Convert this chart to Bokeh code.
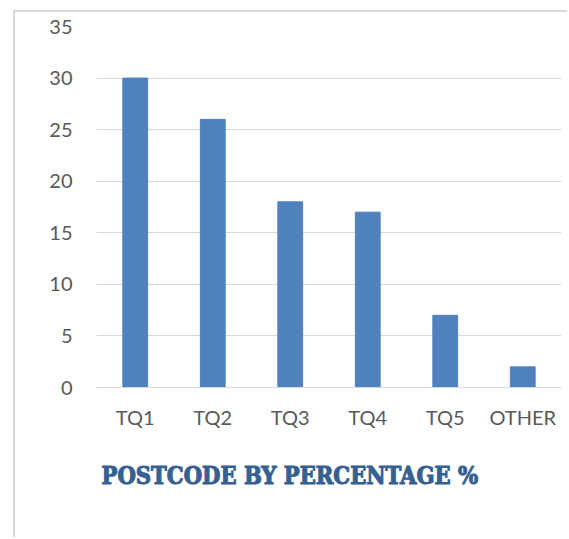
from bokeh.plotting import figure
from bokeh.models import Title, FixedTicker
from bokeh.embed import file_html
from bokeh.resources import INLINE

# Share of customers by postcode area
postcodes = ["TQ1", "TQ2", "TQ3", "TQ4", "TQ5", "OTHER"]
percentages = [30, 26, 18, 17, 7, 2]
y_ticks = [0, 5, 10, 15, 20, 25, 30, 35]
chart_title = "POSTCODE BY PERCENTAGE %"

FRAME_LEFT = 13
FRAME_TOP = 10

p = figure(
    x_range=postcodes,
    y_range=(0, 35),
    width=569 - FRAME_LEFT - 2,
    height=539 - FRAME_TOP - 2,
    output_backend="svg",
    toolbar_location=None,
    min_border_left=96 - FRAME_LEFT - 2,
    min_border_right=8,
    min_border_top=26 - FRAME_TOP - 2,
    min_border_bottom=152,
    styles={
        "margin-left": f"{FRAME_LEFT}px",
        "margin-top": f"{FRAME_TOP}px",
        "border-left": "2px solid #d9d9d9",
        "border-top": "2px solid #d9d9d9",
    },
)
p.outline_line_color = None
p.background_fill_color = "white"
p.border_fill_color = "white"

p.vbar(x=postcodes, top=percentages, width=0.32, color="#4f81bd")

# Axes
p.yaxis.ticker = FixedTicker(ticks=y_ticks)
p.yaxis.axis_line_color = None
p.yaxis.major_tick_line_color = None
p.yaxis.minor_tick_line_color = None
p.yaxis.major_label_standoff = 18
p.yaxis.major_label_text_font = "Lato"
p.yaxis.major_label_text_font_size = "20px"
p.yaxis.major_label_text_color = "#595959"

p.xaxis.axis_line_color = "#d9d9d9"
p.xaxis.axis_line_width = 1
p.xaxis.major_tick_line_color = None
p.xaxis.minor_tick_line_color = None
p.xaxis.major_label_standoff = 11
p.xaxis.major_label_text_font = "Lato"
p.xaxis.major_label_text_font_size = "20px"
p.xaxis.major_label_text_color = "#595959"

p.xgrid.grid_line_color = None
p.ygrid.grid_line_color = "#d9d9d9"
p.ygrid.grid_line_width = 1

title = Title(
    text=chart_title,
    align="left",
    offset=5,
    standoff=57,
    text_font="DejaVu Serif Condensed",
    text_font_style="bold",
    text_font_size="23.5px",
    text_color="#366092",
    text_outline_color="#366092",
)
p.add_layout(title, "below")

open("out.html", "w").write(file_html(p, INLINE))
